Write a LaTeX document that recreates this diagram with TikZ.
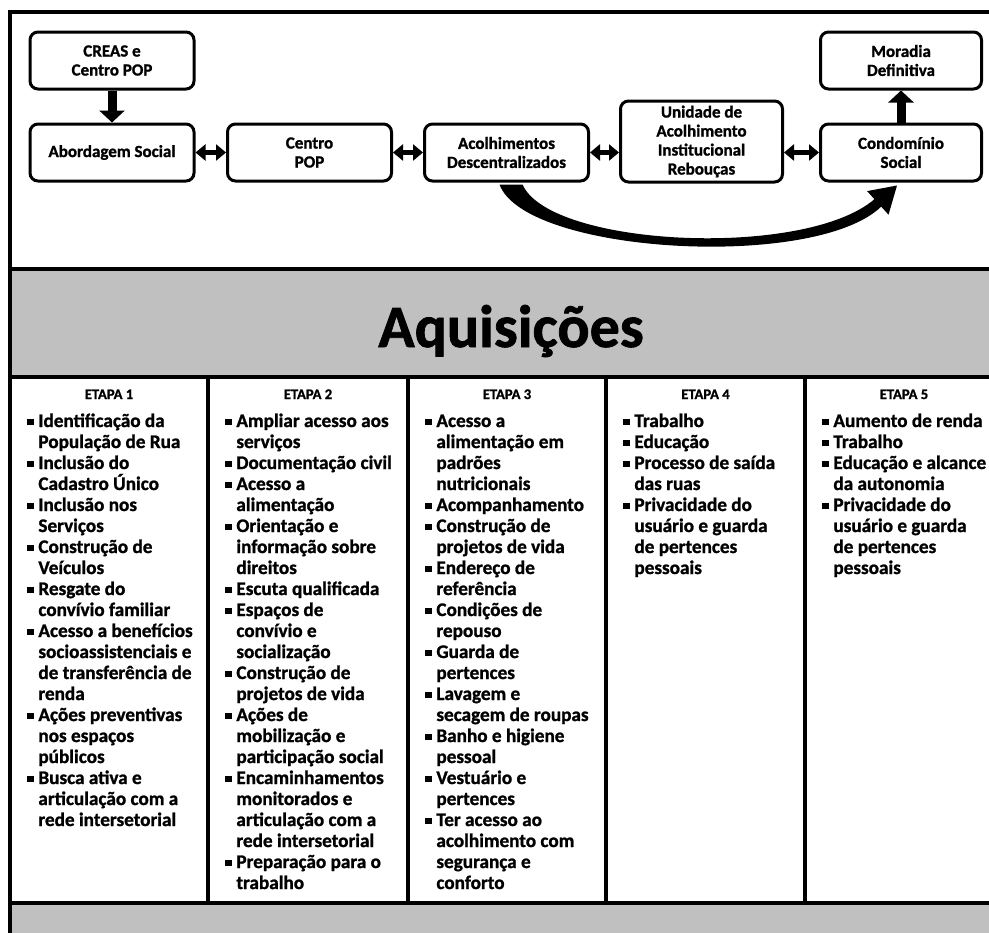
\documentclass[tikz,border=0pt]{standalone}
\usepackage{fontspec}
\setmainfont{Carlito}[BoldFeatures={FakeBold=1.2}]
\usepackage{xcolor}
\usepackage{tikz}
\usetikzlibrary{arrows.meta, calc}

\definecolor{bandgray}{RGB}{192,192,192}
\newcommand{\itm}{\makebox[5.5pt][l]{\rule[1.2pt]{3.3pt}{3pt}}}
\newcommand{\cnt}{\hspace*{5.5pt}}

\begin{document}
\begin{tikzpicture}[x=0.5pt, y=-0.5pt,
  box/.style={draw, line width=1.5pt, rounded corners=4pt, minimum width=82pt, minimum height=28.5pt,
    align=center, inner sep=2pt, font=\fontsize{8.5}{9.5}\selectfont\bfseries},
  dbl/.style={line width=2.5pt, {Triangle[length=5pt,width=8pt]}-{Triangle[length=5pt,width=8pt]}},
  vert/.style={line width=4.5pt, -{Triangle[length=6pt,width=12.5pt]}},
  hdr/.style={anchor=base, inner sep=0pt, font=\fontsize{7.3}{8}\selectfont\bfseries},
  itemlist/.style={anchor=base west, align=left, inner sep=0pt, font=\fontsize{9.6}{10.5}\selectfont\bfseries}]
\useasboundingbox (0,0) rectangle (989,932);
\clip (0,0) rectangle (989,932);
\filldraw[fill=bandgray, line width=1.6pt] (10,269) rectangle (1012,377);
\filldraw[fill=bandgray, line width=1.6pt] (10,903) rectangle (1012,945);
\draw[line width=1.6pt] (10,945) -- (10,12) -- (1012,12);
\foreach \x in {208,408,606,805}
  \draw[line width=2pt] (\x,377) -- (\x,903);

\node[box] (creas) at (112,60.5) {CREAS e\\Centro POP};
\node[box] (abord) at (112,152.5) {Abordagem Social};
\node[box] (centro) at (309.5,152.5) {Centro\\POP};
\node[box] (acolh) at (506.5,152.5) {Acolhimentos\\Descentralizados};
\node[box, minimum width=81pt, minimum height=40.5pt] (unid) at (701.5,141.5) {Unidade de\\Acolhimento\\Institucional\\Rebouças};
\node[box, minimum width=80.5pt] (condo) at (901,152.5) {Condomínio\\Social};
\node[box, minimum width=80.5pt] (morad) at (901,60.5) {Moradia\\Definitiva};

\draw[vert] (creas) -- (abord);
\draw[vert] (condo) -- (morad);
\draw[dbl] (abord) -- (centro);
\draw[dbl] (centro) -- (acolh);
\draw[dbl] (acolh) -- (unid.west |- acolh);
\draw[dbl] (unid.east |- condo) -- (condo);

\coordinate (ca) at ($(acolh.south)+(-7,2)$);
\coordinate (cb) at ($(acolh.south)+(16,2)$);
\coordinate (ct) at ($(condo.south)+(-4,3)$);
\fill (ca) .. controls +(25.5,69.5) and +(-66,64) .. ($(ct)+(-15.8,21.1)$)
  -- ($(ct)+(-8.5,29.2)$) -- (ct) -- ($(ct)+(-29.9,5.6)$) -- ($(ct)+(-22.6,13.7)$)
  .. controls +(-69.4,59.8) and +(27.5,62.5) .. (cb) -- cycle;

\node[anchor=base, inner sep=0pt, font=\fontsize{30}{36}\selectfont\bfseries] (title) at (511,347) {Aquisições};

\node[hdr] (h1) at (109,399) {ETAPA 1};
\node[hdr] (h2) at (308,399) {ETAPA 2};
\node[hdr] (h3) at (507,399) {ETAPA 3};
\node[hdr] (h4) at (705.5,399) {ETAPA 4};
\node[hdr] (h5) at (904,399) {ETAPA 5};

\node[itemlist] (l1) at (27,826) {\itm Identificação da\\ \cnt População de Rua\\ \itm Inclusão do\\ \cnt Cadastro Único\\
  \itm Inclusão nos\\ \cnt Serviços\\ \itm Construção de\\ \cnt Veículos\\ \itm Resgate do\\ \cnt convívio familiar\\
  \itm Acesso a benefícios\\ \cnt socioassistenciais e\\ \cnt de transferência de\\ \cnt renda\\
  \itm Ações preventivas\\ \cnt nos espaços\\ \cnt públicos\\ \itm Busca ativa e\\ \cnt articulação com a\\ \cnt rede intersetorial};
\node[itemlist] (l2) at (225,889) {\itm Ampliar acesso aos\\ \cnt serviços\\ \itm Documentação civil\\ \itm Acesso a\\ \cnt alimentação\\
  \itm Orientação e\\ \cnt informação sobre\\ \cnt direitos\\ \itm Escuta qualificada\\ \itm Espaços de\\ \cnt convívio e\\ \cnt socialização\\
  \itm Construção de\\ \cnt projetos de vida\\ \itm Ações de\\ \cnt mobilização e\\ \cnt participação social\\
  \itm Encaminhamentos\\ \cnt monitorados e\\ \cnt articulação com a\\ \cnt rede intersetorial\\ \itm Preparação para o\\ \cnt trabalho};
\node[itemlist] (l3) at (425,889) {\itm Acesso a\\ \cnt alimentação em\\ \cnt padrões\\ \cnt nutricionais\\ \itm Acompanhamento\\
  \itm Construção de\\ \cnt projetos de vida\\ \itm Endereço de\\ \cnt referência\\ \itm Condições de\\ \cnt repouso\\
  \itm Guarda de\\ \cnt pertences\\ \itm Lavagem e\\ \cnt secagem de roupas\\ \itm Banho e higiene\\ \cnt pessoal\\
  \itm Vestuário e\\ \cnt pertences\\ \itm Ter acesso ao\\ \cnt acolhimento com\\ \cnt segurança e\\ \cnt conforto};
\node[itemlist] (l4) at (623,574) {\itm Trabalho\\ \itm Educação\\ \itm Processo de saída\\ \cnt das ruas\\
  \itm Privacidade do\\ \cnt usuário e guarda\\ \cnt de pertences\\ \cnt pessoais};
\node[itemlist] (l5) at (822,574) {\itm Aumento de renda\\ \itm Trabalho\\ \itm Educação e alcance\\ \cnt da autonomia\\
  \itm Privacidade do\\ \cnt usuário e guarda\\ \cnt de pertences\\ \cnt pessoais};
\end{tikzpicture}
\end{document}
